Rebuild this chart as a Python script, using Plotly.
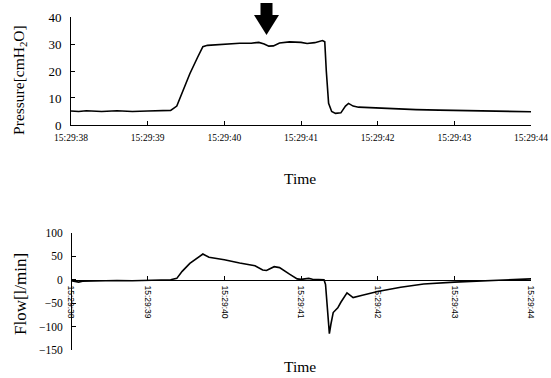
import plotly.graph_objects as go

# ---- data ----
tick_seconds = [38, 39, 40, 41, 42, 43, 44]
tick_labels = ["15:29:38", "15:29:39", "15:29:40", "15:29:41", "15:29:42", "15:29:43", "15:29:44"]

pressure_t = [38.0, 38.1, 38.2, 38.4, 38.6, 38.8, 39.0, 39.2, 39.3, 39.38, 39.45, 39.55, 39.65,
              39.72, 39.78, 40.0, 40.2, 40.35, 40.45, 40.52, 40.58, 40.64, 40.72, 40.85, 41.0,
              41.08, 41.18, 41.28, 41.31, 41.33, 41.36, 41.40, 41.45, 41.52, 41.58, 41.62, 41.68,
              41.75, 41.9, 42.0, 42.2, 42.5, 42.8, 43.0, 43.5, 43.8, 44.0]
pressure_v = [5.2, 5.0, 5.3, 5.0, 5.3, 5.0, 5.2, 5.3, 5.4, 7.0, 12.0, 19.0, 25.0,
              29.0, 29.5, 30.0, 30.3, 30.3, 30.6, 30.0, 29.2, 29.3, 30.4, 30.8, 30.6,
              30.2, 30.5, 31.3, 30.8, 20.0, 8.0, 5.0, 4.3, 4.5, 7.0, 8.0, 7.0,
              6.6, 6.4, 6.2, 5.9, 5.7, 5.5, 5.4, 5.3, 5.0, 4.9]

flow_t = [38.0, 38.05, 38.1, 38.15, 38.4, 38.6, 38.8, 39.0, 39.2, 39.3, 39.38, 39.45, 39.55,
          39.72, 39.8, 40.0, 40.2, 40.4, 40.5, 40.55, 40.65, 40.72, 40.85, 40.95, 41.0, 41.1,
          41.15, 41.3, 41.32, 41.35, 41.37, 41.39, 41.42, 41.48, 41.52, 41.6, 41.68, 41.8,
          42.0, 42.3, 42.6, 43.0, 43.5, 44.0]
flow_v = [-2, -4, -5, -3, -2, -1.5, -2, -1, -0.5, 0, 3, 18, 35,
          55, 48, 43, 36, 30, 21, 20, 28, 26, 12, 2, 1, 3,
          1, 0, -10, -80, -115, -95, -70, -60, -48, -28, -38, -33,
          -25, -16, -9, -5, -2, 2]

p_ticks = [0, 10, 20, 30, 40]
f_ticks = [-150, -100, -50, 0, 50, 100]
p_range = [0, 40]
f_range = [-150, 100]
x_range = [38, 44]
arrow_t, arrow_p = 40.55, 33.3

serif = "Liberation Serif"
top_dom = [0.6757, 1.0]
bot_dom = [0.0, 0.3514]
zero_pos = bot_dom[0] + (0 - f_range[0]) / (f_range[1] - f_range[0]) * (bot_dom[1] - bot_dom[0])
arrow_paper = top_dom[0] + (arrow_p - p_range[0]) / (p_range[1] - p_range[0]) * (top_dom[1] - top_dom[0])

fig = go.Figure()
fig.add_trace(go.Scatter(x=pressure_t, y=pressure_v, mode="lines",
                         line=dict(color="black", width=1.6), xaxis="x", yaxis="y"))
fig.add_trace(go.Scatter(x=flow_t, y=flow_v, mode="lines",
                         line=dict(color="black", width=1.6), xaxis="x2", yaxis="y2"))

axis_common = dict(showgrid=False, zeroline=False, showline=True, linecolor="black",
                   linewidth=1, ticks="inside", tickcolor="black", ticklen=4,
                   automargin=False)

fig.update_layout(
    template="none",
    width=551, height=378,
    margin=dict(l=71, r=20, t=17, b=28),
    paper_bgcolor="white", plot_bgcolor="white",
    showlegend=False,
    font=dict(family=serif, color="black"),
    xaxis=dict(domain=[0, 1], anchor="y", range=x_range, tickvals=tick_seconds,
               ticktext=tick_labels, tickfont=dict(family=serif, size=9.5),
               ticklabelstandoff=4, **axis_common),
    yaxis=dict(domain=top_dom, anchor="x", range=p_range, tickvals=p_ticks,
               tickfont=dict(family=serif, size=13), ticklabelstandoff=6, **axis_common),
    xaxis2=dict(domain=[0, 1], anchor="free", position=zero_pos, range=x_range,
                tickvals=tick_seconds, ticktext=tick_labels, tickangle=90,
                tickfont=dict(family="Liberation Sans", size=8.5), ticklabelstandoff=3,
                **axis_common),
    yaxis2=dict(domain=bot_dom, anchor="free", position=0, range=f_range,
                tickvals=f_ticks,
                tickfont=dict(family=serif, size=11.5), ticklabelstandoff=6, **axis_common),
)

ann_common = dict(xref="paper", yref="paper", showarrow=False,
                  xanchor="center", yanchor="middle")
fig.add_annotation(text="Pressure[cmH<sub>2</sub>O]", x=-0.111, y=0.811, textangle=-90,
                   font=dict(family=serif, size=15.5), **ann_common)
fig.add_annotation(text="Flow[l/min]", x=-0.111, y=0.168, textangle=-90,
                   font=dict(family=serif, size=17), **ann_common)
fig.add_annotation(text="Time", x=0.498, y=0.5165,
                   font=dict(family=serif, size=15.5), **ann_common)
fig.add_annotation(text="Time", x=0.498, y=-0.051,
                   font=dict(family=serif, size=15.5), **ann_common)

# downward arrow marker above the pressure dip
fig.add_shape(type="path", xref="x", yref="paper", xsizemode="pixel", ysizemode="pixel",
              xanchor=arrow_t, yanchor=arrow_paper,
              path="M0,0 L-12.5,20 L-6,20 L-6,32 L6,32 L6,20 L12.5,20 Z",
              fillcolor="black", line=dict(color="black", width=0), layer="above")

fig.write_html("out.html", config={"displayModeBar": False},
               post_script="document.body.style.margin='0';document.body.style.padding='0';")
